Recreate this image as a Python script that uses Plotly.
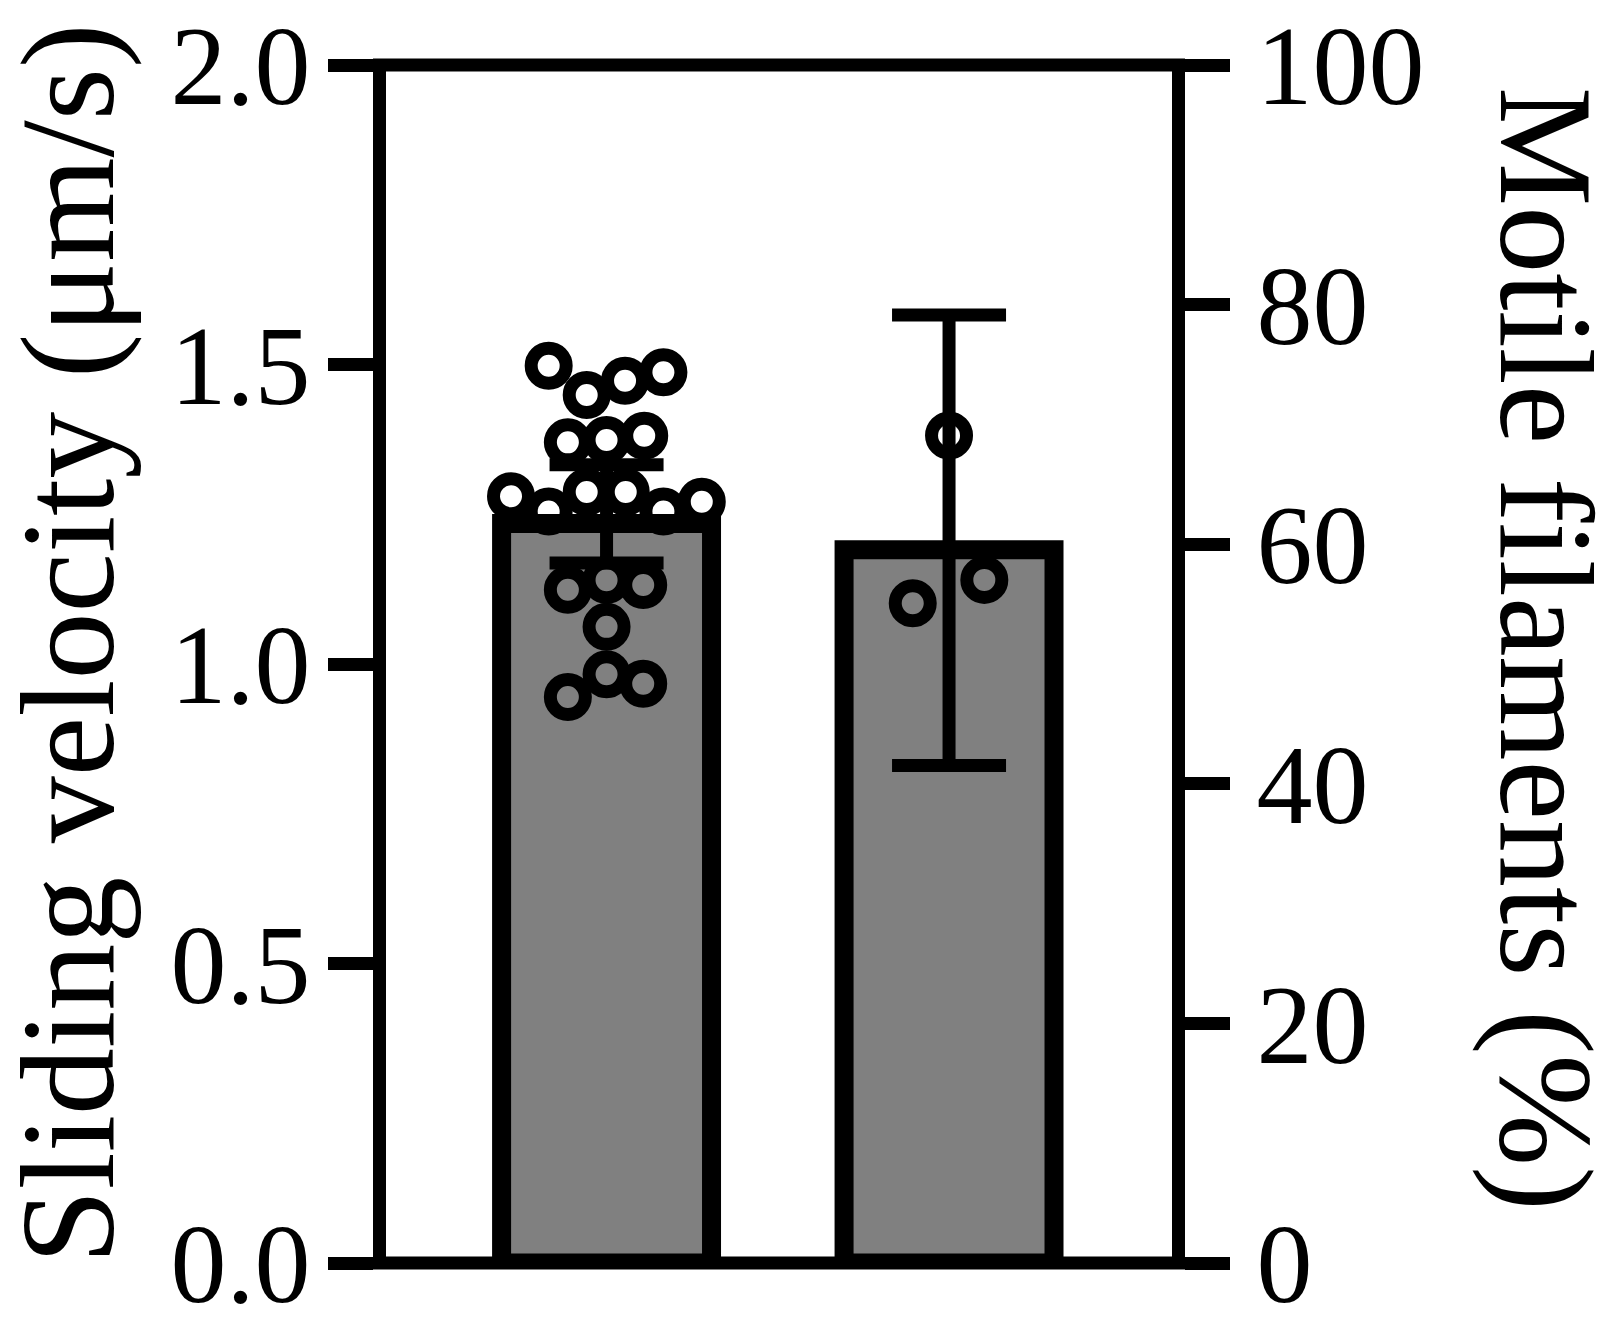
import plotly.graph_objects as go

# ---------------- data ----------------
group_pos = [0, 1]                      # two groups on a numeric x axis
velocity_mean = 1.2506                  # µm/s (left axis)
velocity_err = 0.0819
motile_mean = 60.33                     # % (right axis)
motile_err = 18.8

velocity_points = [1.498, 1.449, 1.473, 1.487,
                   1.370, 1.374, 1.381,
                   1.280, 1.2545, 1.287, 1.287, 1.2545, 1.271,
                   1.124, 1.140, 1.132, 1.062, 0.983, 0.945, 0.967]
velocity_jitter = [-0.169, -0.058, 0.054, 0.166,
                   -0.113, 0.0, 0.110,
                   -0.279, -0.169, -0.058, 0.056, 0.166, 0.278,
                   -0.113, 0.0, 0.107, 0.0, 0.0, -0.113, 0.107]
motile_points = [55.07, 69.07, 57.02]
motile_jitter = [-0.106, 0.0, 0.103]

y_ticks = [0, 0.5, 1.0, 1.5, 2.0]
y_ticklabels = ["0.0", "0.5", "1.0", "1.5", "2.0"]
y2_ticks = [0, 20, 40, 60, 80, 100]
y2_ticklabels = ["0", "20", "40", "60", "80", "100"]

left_title = "Sliding velocity (μm/s)"
right_title = "Motile filaments (%)"

# ---------------- style ----------------
W, H = 1622, 1335
ML, MR, MT, MB = 386, 450, 65, 72
PLOT_W = W - ML - MR
PLOT_H = H - MT - MB
Y_RANGE = [0, 2.0]
Y2_RANGE = [0, 100]
X_RANGE = [-0.644, 1.651]
LINE = 13
BORDER = 19
BAR_W = 0.613
GRAY = "#808080"
FONT = "Liberation Serif"
TICK_SIZE = 112
TITLE_SIZE = 134

# bar border is drawn inside the bar in the reference: shift the bar top by half the border
v_bar = velocity_mean - (BORDER / 2) * (Y_RANGE[1] - Y_RANGE[0]) / PLOT_H
m_bar = motile_mean - (BORDER / 2) * (Y2_RANGE[1] - Y2_RANGE[0]) / PLOT_H

fig = go.Figure()

# bars
fig.add_trace(go.Bar(x=[group_pos[0]], y=[v_bar], width=BAR_W, yaxis="y",
                     marker=dict(color=GRAY, line=dict(color="black", width=BORDER))))
fig.add_trace(go.Bar(x=[group_pos[1]], y=[m_bar], width=BAR_W, yaxis="y2",
                     marker=dict(color=GRAY, line=dict(color="black", width=BORDER))))

# individual points
marker_style = dict(symbol="circle", size=35, color="rgba(0,0,0,0)",
                    line=dict(color="black", width=LINE))
fig.add_trace(go.Scatter(x=[group_pos[0] + j for j in velocity_jitter], y=velocity_points,
                         mode="markers", marker=marker_style, yaxis="y", cliponaxis=False))
fig.add_trace(go.Scatter(x=[group_pos[1] + j for j in motile_jitter], y=motile_points,
                         mode="markers", marker=marker_style, yaxis="y2", cliponaxis=False))

# error bars
err_style = dict(type="data", symmetric=True, color="black", thickness=LINE, width=57)
fig.add_trace(go.Scatter(x=[group_pos[0]], y=[velocity_mean], mode="markers",
                         marker=dict(size=1, color="rgba(0,0,0,0)"), yaxis="y",
                         error_y=dict(array=[velocity_err], **err_style)))
fig.add_trace(go.Scatter(x=[group_pos[1]], y=[motile_mean], mode="markers",
                         marker=dict(size=1, color="rgba(0,0,0,0)"), yaxis="y2",
                         error_y=dict(array=[motile_err], **err_style)))

axis_common = dict(showline=True, linewidth=LINE, linecolor="black",
                   ticks="outside", ticklen=45, tickwidth=LINE, tickcolor="black",
                   showgrid=False, zeroline=False, automargin=False,
                   tickfont=dict(family=FONT, size=TICK_SIZE, color="black"))

ext = LINE / PLOT_W
fig.update_layout(
    width=W, height=H, autosize=False,
    margin=dict(l=ML, r=MR, t=MT, b=MB, pad=0, autoexpand=False),
    paper_bgcolor="white", plot_bgcolor="white",
    showlegend=False, barmode="overlay",
    xaxis=dict(range=X_RANGE, showline=False, showticklabels=False, ticks="",
               showgrid=False, zeroline=False, automargin=False),
    yaxis=dict(range=Y_RANGE, tickvals=y_ticks, ticktext=y_ticklabels, side="left",
               ticklabelstandoff=-5, **axis_common),
    yaxis2=dict(range=Y2_RANGE, tickvals=y2_ticks, ticktext=y2_ticklabels, side="right",
                overlaying="y", ticklabelstandoff=4, **axis_common),
    shapes=[
        dict(type="line", xref="paper", yref="paper", x0=-ext, x1=1 + ext, y0=0, y1=0,
             line=dict(color="black", width=LINE), layer="above"),
        dict(type="line", xref="paper", yref="paper", x0=-ext, x1=1 + ext, y0=1, y1=1,
             line=dict(color="black", width=LINE), layer="above"),
    ],
    annotations=[
        dict(text=left_title, xref="paper", yref="paper", x=0, y=0.5,
             xanchor="center", yanchor="middle", xshift=-318, yshift=20,
             textangle=-90, showarrow=False,
             font=dict(family=FONT, size=TITLE_SIZE, color="black")),
        dict(text=right_title, xref="paper", yref="paper", x=1, y=0.5,
             xanchor="center", yanchor="middle", xshift=374, yshift=15,
             textangle=90, showarrow=False,
             font=dict(family=FONT, size=TITLE_SIZE, color="black")),
    ],
)

fig.write_html("out.html", config={"displayModeBar": False},
               post_script="document.body.style.margin='0';")
